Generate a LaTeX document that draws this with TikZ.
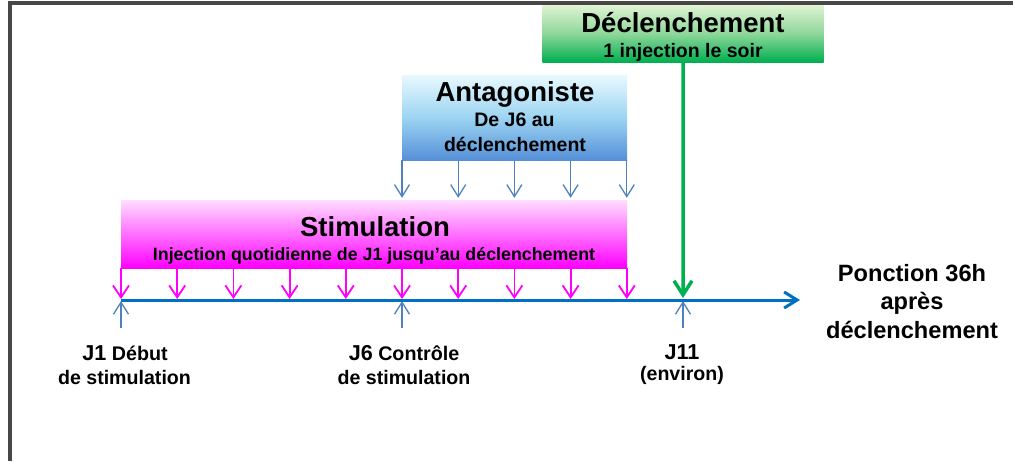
\documentclass[tikz,border=0pt]{standalone}
\usepackage{fontspec}
\setmainfont{Liberation Sans}
\usetikzlibrary{arrows.meta,calc}
\definecolor{framegray}{HTML}{474747}
\definecolor{grnTop}{HTML}{E0F3D3}
\definecolor{grnMid}{HTML}{8ED79A}
\definecolor{grnBot}{HTML}{00B050}
\definecolor{bluTop}{HTML}{E8F9FE}
\definecolor{bluMid}{HTML}{9CD4F2}
\definecolor{bluBot}{HTML}{5590D8}
\definecolor{magTop}{HTML}{FFDDFF}
\definecolor{magMid}{HTML}{FF70FF}
\definecolor{magBot}{HTML}{FF00FF}
\definecolor{magArr}{HTML}{FF00FF}
\definecolor{thinBlue}{HTML}{4F81BD}
\definecolor{axisBlue}{HTML}{0070C0}
\definecolor{grnArr}{HTML}{00B050}
\begin{document}
\begin{tikzpicture}[x=1pt,y=-1pt,
  txt/.style={inner sep=0pt, anchor=base, font=\bfseries},
  boxbase/.style={draw=none, inner sep=0pt, rectangle},
  gbox/.style={boxbase, top color=grnTop, bottom color=grnBot, middle color=grnMid},
  bbox/.style={boxbase, top color=bluTop, bottom color=bluBot, middle color=bluMid},
  mbox/.style={boxbase, top color=magTop, bottom color=magBot, middle color=magMid},
  magarr/.style={draw=magArr, line width=1.8pt, -{Straight Barb[length=12pt,width=16pt]}},
  thinarr/.style={draw=thinBlue, line width=1.3pt, -{Straight Barb[length=12pt,width=15pt]}},
  axisarr/.style={draw=axisBlue, line width=3pt, -{Straight Barb[length=13pt,width=16pt]}},
  grnarr/.style={draw=grnArr, line width=3.5pt, -{Straight Barb[length=14pt,width=18pt]}}
]
\useasboundingbox (0,0) rectangle (1013,461);
% frame
\draw[framegray, line width=4pt, line join=miter] (10.3,461) -- (10.3,3) -- (1013,3);

% day coordinates on the axis
\foreach \k in {1,...,11} {
  \coordinate (d\k) at ({121+56.2*(\k-1)},300);
}
\coordinate (axend) at (800,300);

% boxes
\node[gbox, minimum width=281pt, minimum height=57pt] (decl) at (683,33.5) {};
\node[bbox, minimum width=225pt, minimum height=85pt] (anta) at (514.5,117.5) {};
\node[mbox, minimum width=506pt, minimum height=68pt] (stim) at (374,234) {};

% box texts
\node[txt, font=\bfseries\fontsize{27.5}{30}\selectfont] (declT) at (683,32) {Déclenchement};
\node[txt, font=\bfseries\fontsize{19.5}{22}\selectfont] (declS) at (683,57) {1 injection le soir};
\node[txt, font=\bfseries\fontsize{27.5}{30}\selectfont] (antaT) at (515,101.5) {Antagoniste};
\node[txt, font=\bfseries\fontsize{19.5}{22}\selectfont] (antaS1) at (514.5,126.5) {De J6 au};
\node[txt, font=\bfseries\fontsize{19.5}{22}\selectfont] (antaS2) at (515,151) {déclenchement};
\node[txt, font=\bfseries\fontsize{27.5}{30}\selectfont] (stimT) at (375,236) {Stimulation};
\node[txt, font=\bfseries\fontsize{17.8}{20}\selectfont] (stimS) at (374,260) {Injection quotidienne de J1 jusqu’au déclenchement};

% axis
\draw[axisarr] (d1) -- (axend);

% stimulation arrows
\foreach \k in {1,...,10} {
  \draw[magarr] (d\k |- stim.south) -- ($(d\k)+(0,-1)$);
}
% antagonist arrows
\foreach \k in {6,...,10} {
  \draw[thinarr] (d\k |- anta.south) -- ($(d\k |- stim.north)+(0,-2)$);
}
% trigger arrow
\draw[grnarr] (decl.south) -- ($(d11)+(0,-2)$);

% up arrows
\foreach \k in {1,6,11} {
  \draw[thinarr] ($(d\k)+(0,28)$) -- ($(d\k)+(0,1)$);
}

% bottom labels
\node[txt, font=\bfseries\fontsize{19.7}{22}\selectfont] (l1a) at (125,360) {{\fontsize{21.6}{24}\selectfont J1} Début};
\node[txt, font=\bfseries\fontsize{19.6}{22}\selectfont] (l1b) at (124.5,384) {de stimulation};
\node[txt, font=\bfseries\fontsize{19.7}{22}\selectfont] (l6a) at (404,360) {{\fontsize{21.6}{24}\selectfont J6} Contrôle};
\node[txt, font=\bfseries\fontsize{19.6}{22}\selectfont] (l6b) at (404,384) {de stimulation};
\node[txt, font=\bfseries\fontsize{21.6}{24}\selectfont] (l11a) at (682,359) {J11};
\node[txt, font=\bfseries\fontsize{19.6}{22}\selectfont] (l11b) at (682,380) {(environ)};

% puncture label
\node[txt, font=\bfseries\fontsize{23.6}{26}\selectfont] (pon1) at (912,281.5) {Ponction 36h};
\node[txt, font=\bfseries\fontsize{23.6}{26}\selectfont] (pon2) at (912,309.5) {après};
\node[txt, font=\bfseries\fontsize{23.6}{26}\selectfont] (pon3) at (912,338) {déclenchement};
\end{tikzpicture}
\end{document}
